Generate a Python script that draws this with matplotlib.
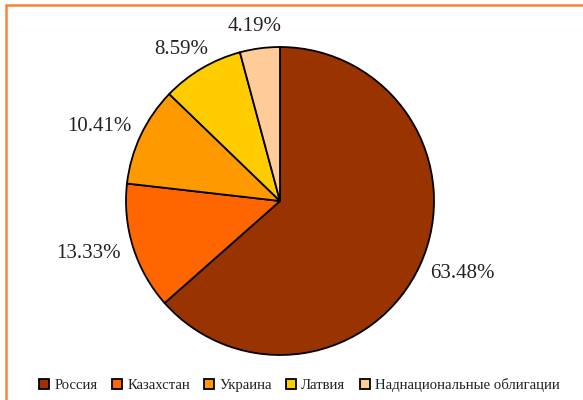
import numpy as np
import matplotlib.pyplot as plt
from matplotlib.patches import Rectangle
from matplotlib.lines import Line2D

plt.rcParams['font.family'] = ['Liberation Serif', 'DejaVu Serif']

categories = ["Россия", "Казахстан", "Украина", "Латвия", "Наднациональные облигации"]
shares = [63.48, 13.33, 10.41, 8.59, 4.19]
colors = ["#993300", "#FF6600", "#FF9900", "#FFCC00", "#FFCC99"]

W, H = 583, 400
fig = plt.figure(figsize=(W / 100, H / 100), dpi=100)

# pie centre ~ (280, 201) px, radius ~154 px
cx, cy, r = 280, 201, 154
ax = fig.add_axes([(cx - r) / W, (H - cy - r) / H, 2 * r / W, 2 * r / H])
wedges, _ = ax.pie(shares, colors=colors, startangle=90, counterclock=False,
                   wedgeprops=dict(edgecolor="black", linewidth=1.3))
ax.set_xlim(-1, 1)
ax.set_ylim(-1, 1)
ax.set_aspect("equal")
ax.axis("off")

# labels placed outside the wedge, box kept a small gap from the rim
fig.canvas.draw()
renderer = fig.canvas.get_renderer()
gap = 14 / r
for w, v in zip(wedges, shares):
    th = np.deg2rad((w.theta1 + w.theta2) / 2)
    t = ax.text(0, 0, f"{v:.2f}%", fontsize=15, color="#222222",
                ha="center", va="center")
    bb = t.get_window_extent(renderer)
    hw, hh = bb.width / 2 / r, bb.height / 2 / r * 0.8
    c, s = np.cos(th), np.sin(th)
    t.set_position(((1 + gap) * c + hw * c, (1 + gap) * s + hh * s))

# orange frame (only top/left visible in the crop)
fig.patches.append(Rectangle((6 / W, -0.1), 1.2, (H - 5) / H + 0.1,
                             transform=fig.transFigure, fill=False,
                             edgecolor="#F7823A", linewidth=1.8))

handles = [Line2D([], [], linestyle="none", marker="s", markersize=7,
                  markerfacecolor=c, markeredgecolor="black", markeredgewidth=1.3)
           for c in colors]
fig.legend(handles, categories, loc="center", bbox_to_anchor=(299 / W, 1 - 385 / H),
           ncol=5, frameon=False, fontsize=10.6, handlelength=0.8, handletextpad=0.3,
           columnspacing=0.9, labelcolor="#222222")

fig.savefig("out.png", dpi=100)
